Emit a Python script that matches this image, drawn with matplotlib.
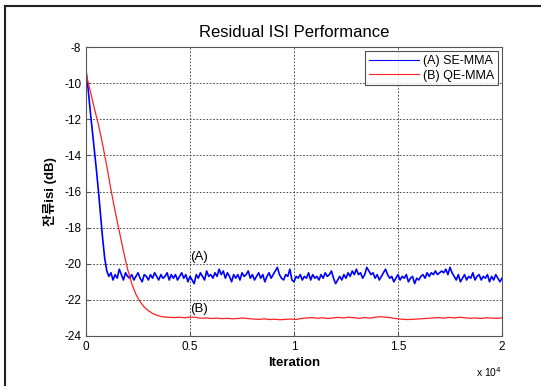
import matplotlib as mpl
mpl.use('Agg')
import matplotlib.pyplot as plt
from matplotlib.lines import Line2D
import numpy as np

plt.rcParams['font.family'] = ['Liberation Sans', 'Noto Sans CJK KR']
plt.rcParams['axes.unicode_minus'] = False

# blue curve (A) SE-MMA: fast descent then noisy floor
se_x_start = [0, 100, 200, 300, 400, 500, 600, 700, 800, 900, 1000, 1100]
se_y_start = [-9.3, -10.3, -11.5, -12.6, -13.7, -14.8, -16.0, -17.3, -18.6, -19.7, -20.4, -20.7]
se_y_floor = [
    -20.5, -20.9, -20.6, -20.8, -20.3, -20.6, -20.9, -20.5, -20.7, -20.8,
    -20.6, -20.9, -20.7, -20.5, -20.8, -21.0, -20.6, -20.7, -20.9, -20.6,
    -20.8, -20.5, -20.7, -20.9, -20.6, -20.8, -20.7, -20.5, -20.9, -20.6,
    -20.8, -20.6, -20.9, -20.7, -20.5, -20.8, -20.6, -21.0, -20.7, -20.9,
    -21.1, -20.6, -20.8, -20.5, -20.7, -20.9, -20.4, -20.7, -20.6, -20.8,
    -20.5, -20.7, -20.3, -20.6, -20.4, -20.8, -20.5, -20.7, -21.0, -20.6,
    -20.8, -20.6, -20.9, -20.5, -20.7, -20.6, -20.4, -20.8, -20.6, -20.9,
    -20.7, -20.5, -20.8, -20.6, -21.0, -20.7, -20.5, -20.8, -20.6, -20.4,
    -20.2, -20.6, -20.8, -20.9, -20.6, -20.7, -20.3, -20.9, -21.0, -20.7,
    -20.8, -20.6, -20.9, -20.7, -20.8, -20.5, -20.9, -20.6, -20.8, -20.7,
    -20.9, -20.6, -20.8, -20.5, -20.7, -20.6, -20.4, -20.8, -21.1, -20.9,
    -20.7, -20.9, -20.6, -20.8, -20.5, -20.7, -20.4, -20.6, -20.3, -20.6,
    -20.5, -20.8, -20.6, -20.2, -20.4, -20.6, -20.5, -20.8, -20.6, -20.9,
    -20.7, -20.5, -20.3, -20.6, -20.8, -20.7, -21.0, -20.8, -20.6, -20.9,
    -20.7, -20.8, -20.6, -21.0, -20.8, -20.7, -21.1, -20.8, -20.9, -20.7,
    -20.6, -20.8, -20.5, -20.7, -20.5, -20.6, -20.4, -20.6, -20.5, -20.4,
    -20.5, -20.3, -20.6, -20.2, -20.5, -20.7, -20.9, -20.6, -21.0, -20.8,
    -20.6, -20.9, -20.7, -20.8, -20.5, -20.9, -20.7, -20.6, -20.9, -20.7,
    -20.8, -20.6, -21.0, -20.7, -20.9, -20.6, -20.8, -21.0, -20.8]
se_x_floor = np.arange(1200, 20001, 100)

# red curve (B) QE-MMA: slower descent, smooth floor near -23
qe_x_start = [0, 200, 400, 600, 800, 1000, 1200, 1400, 1600, 1800, 2000,
              2200, 2400, 2600, 2800, 3000, 3200, 3400, 3600, 3800]
qe_y_start = [-9.5, -10.4, -11.4, -12.3, -13.4, -14.6, -15.9, -17.1, -18.2, -19.3, -20.3,
              -21.1, -21.7, -22.1, -22.4, -22.6, -22.75, -22.85, -22.92, -22.95]
qe_y_floor = [
    -22.97, -22.98, -22.96, -22.99, -22.95, -22.97, -23.02, -23.0,
    -23.03, -23.01, -23.04, -23.02, -23.05, -23.03, -23.0, -23.04,
    -23.06, -23.08, -23.05, -23.09, -23.07, -23.1, -23.08, -23.06,
    -23.09, -23.03, -23.0, -22.98, -23.02, -22.99, -23.03, -23.0,
    -22.97, -23.0, -22.96, -22.99, -23.02, -22.98, -23.01, -22.96,
    -22.93, -22.96, -22.99, -23.04, -23.07, -23.09, -23.08, -23.06,
    -23.04, -23.02, -23.0, -22.98, -23.01, -22.97, -23.0, -22.96,
    -22.99, -23.02, -23.0, -23.03, -22.99, -23.01, -23.02, -23.0]
qe_x_floor = np.linspace(4000, 20000, len(qe_y_floor))

se_x = np.concatenate([se_x_start, se_x_floor])
se_y = np.concatenate([se_y_start, se_y_floor])
qe_x = np.concatenate([qe_x_start, qe_x_floor])
qe_y = np.concatenate([qe_y_start, qe_y_floor])

xticks = [0, 5000, 10000, 15000, 20000]
xticklabels = ['0', '0.5', '1', '1.5', '2']
yticks = [-24, -22, -20, -18, -16, -14, -12, -10, -8]

fig = plt.figure(figsize=(5.41, 3.86), dpi=100)
fig.patch.set_facecolor('white')
# partial frame of the figure window (top and left edges)
fig.add_artist(Line2D([5/541, 5/541], [0, 1 - 6/386], transform=fig.transFigure, color='#222222', lw=1.5))
fig.add_artist(Line2D([5/541, 1], [1 - 6/386, 1 - 6/386], transform=fig.transFigure, color='#222222', lw=1.5))

ax = fig.add_axes([86/541, 50/386, 416/541, 289/386])
ax.plot(se_x, se_y, color='#0000ff', lw=1.2, label='(A) SE-MMA')
ax.plot(qe_x, qe_y, color='#ff2020', lw=0.9, label='(B) QE-MMA')

ax.set_xlim(0, 20000)
ax.set_ylim(-24, -8)
ax.set_xticks(xticks)
ax.set_xticklabels(xticklabels)
ax.set_yticks(yticks)
ax.tick_params(direction='in', labelsize=8.5, length=3, color='#555555')
ax.grid(True, color='#333333', linestyle=(0, (2, 2)), lw=0.6)
for s in ax.spines.values():
    s.set_color('#555555')
    s.set_linewidth(0.8)

ax.set_title('Residual ISI Performance', fontsize=12, pad=7)
ax.set_xlabel('Iteration', fontsize=9.5, fontweight='bold', labelpad=3)
ax.set_ylabel('잔류isi (dB)', fontsize=9.5, fontweight='bold', labelpad=5)
ax.text(1.0, -0.1, 'x 10$^{4}$', transform=ax.transAxes, ha='right', va='top', fontsize=7.5)

ax.text(5000, -19.63, '(A)', ha='left', va='center', fontsize=9.5)
ax.text(5000, -22.5, '(B)', ha='left', va='center', fontsize=9.5)

leg = ax.legend(loc='upper right', fontsize=9, frameon=True, fancybox=False,
                borderaxespad=0.35, handlelength=4.0, handletextpad=0.3,
                borderpad=0.3, labelspacing=0.2)
leg.get_frame().set_edgecolor('#222222')
leg.get_frame().set_linewidth(0.8)
for h in leg.get_lines():
    h.set_linewidth(0.8)

plt.savefig('out.png', dpi=100)
plt.close()
